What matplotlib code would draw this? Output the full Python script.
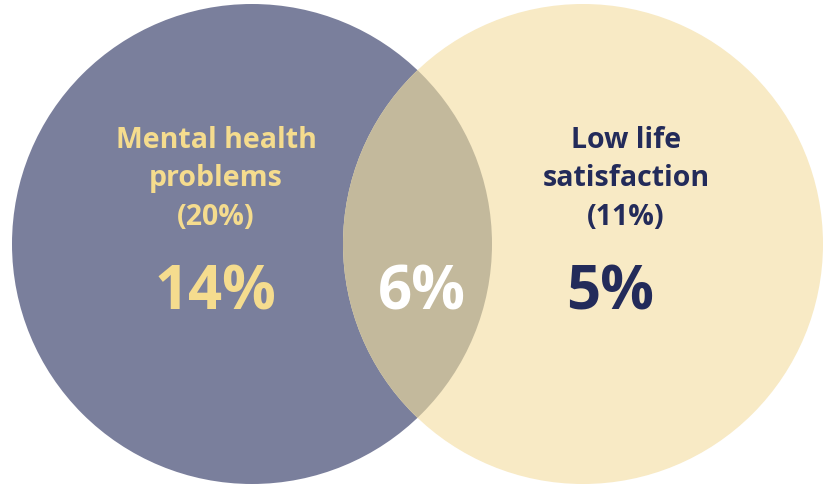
import matplotlib.pyplot as plt
from matplotlib.patches import Circle

# --- Data ---
labels = ["Mental health\nproblems\n(20%)", "Low life\nsatisfaction\n(11%)"]
totals = [20, 11]
only_values = [14, 5]
overlap_value = 6

left_color = '#7A7F9C'
right_color = '#F8EAC5'
overlap_color = '#C3B99C'
yellow_text = '#F5DC8E'
navy_text = '#232B5A'

W, H = 825, 485
fig = plt.figure(figsize=(W / 100, H / 100), dpi=100)
ax = fig.add_axes([0, 0, 1, 1])
ax.set_xlim(0, W)
ax.set_ylim(H, 0)
ax.set_aspect('equal')
ax.axis('off')

r = 240
cl = (252, 245)
cr = (583, 245)

ax.add_patch(Circle(cl, r, facecolor=left_color, edgecolor='none', zorder=1))
ax.add_patch(Circle(cr, r, facecolor=right_color, edgecolor='none', zorder=1))
# overlap: right-circle-shaped patch clipped by left circle
left_clip = Circle(cl, r, transform=ax.transData)
ov = Circle(cr, r, facecolor=overlap_color, edgecolor='none', zorder=2)
ax.add_patch(ov)
ov.set_clip_path(left_clip)

font = 'Open Sans'
ax.text(216, 179, labels[0], ha='center', va='center', fontsize=20.5,
        fontweight='bold', color=yellow_text, family=font, linespacing=1.45, zorder=3)
ax.text(626, 179, labels[1], ha='center', va='center', fontsize=20.5,
        fontweight='bold', color=navy_text, family=font, linespacing=1.45, zorder=3)

ax.text(215, 294, f"{only_values[0]}%", ha='center', va='center', fontsize=43,
        fontweight='bold', color=yellow_text, family=font, zorder=3)
ax.text(422, 294, f"{overlap_value}%", ha='center', va='center', fontsize=43,
        fontweight='bold', color='white', family=font, zorder=3)
ax.text(610, 294, f"{only_values[1]}%", ha='center', va='center', fontsize=43,
        fontweight='bold', color=navy_text, family=font, zorder=3)

fig.savefig('out.png', dpi=100, facecolor='white')
